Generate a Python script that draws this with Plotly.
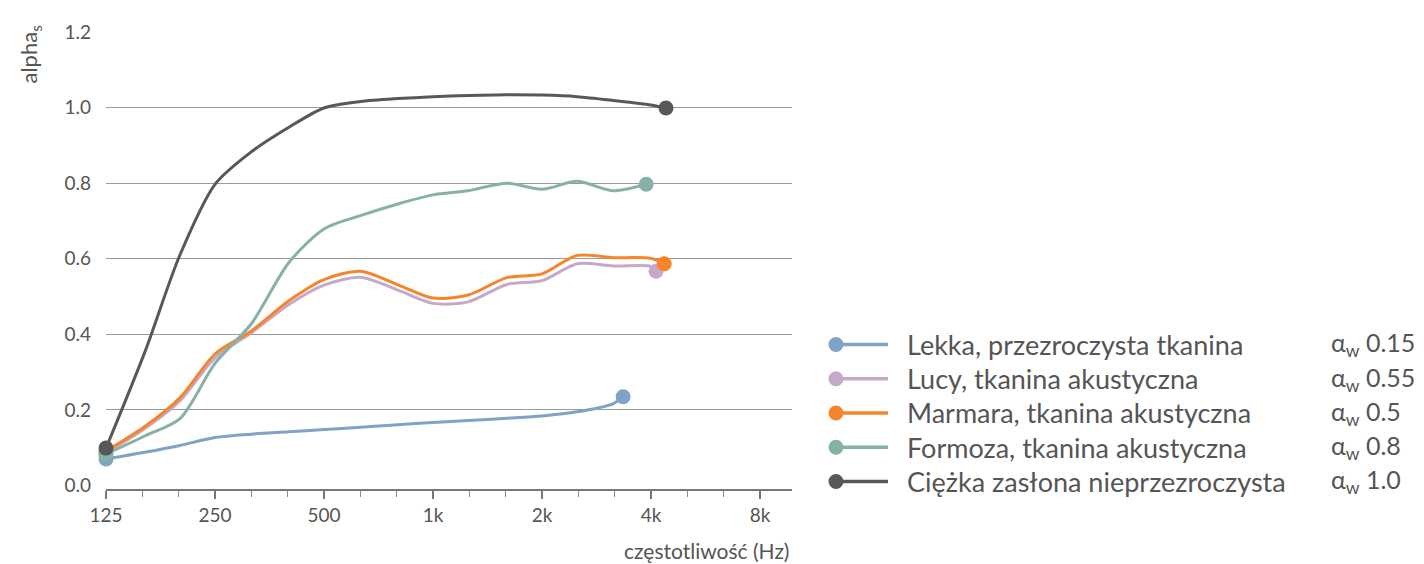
import numpy as np
import plotly.graph_objects as go

# ---------------- data ----------------
freqs = [125, 160, 200, 250, 315, 400, 500, 630, 800, 1000, 1250, 1600, 2000, 2500, 3150, 4000]

series_names = [
    "Lekka, przezroczysta tkanina",
    "Lucy, tkanina akustyczna",
    "Marmara, tkanina akustyczna",
    "Formoza, tkanina akustyczna",
    "Ciężka zasłona nieprzezroczysta",
]
alpha_w = ["0.15", "0.55", "0.5", "0.8", "1.0"]

lekka_f = freqs[:15] + [3350]
lekka_v = [0.070, 0.088, 0.106, 0.127, 0.136, 0.142, 0.148, 0.154, 0.161, 0.167, 0.172, 0.178, 0.184, 0.195, 0.217, 0.235]

lucy_f = freqs + [4130]
lucy_v = [0.086, 0.151, 0.224, 0.338, 0.404, 0.479, 0.530, 0.551, 0.517, 0.482, 0.486, 0.532, 0.542, 0.587, 0.581, 0.580, 0.567]

marmara_f = freqs + [4350]
marmara_v = [0.091, 0.156, 0.232, 0.348, 0.409, 0.489, 0.545, 0.567, 0.531, 0.496, 0.504, 0.550, 0.560, 0.609, 0.603, 0.601, 0.587]

formoza_f = freqs[:15] + [3880]
formoza_v = [0.083, 0.131, 0.177, 0.323, 0.428, 0.590, 0.679, 0.714, 0.745, 0.769, 0.780, 0.800, 0.784, 0.805, 0.780, 0.797]

ciezka_f = freqs + [4400]
ciezka_v = [0.099, 0.353, 0.610, 0.797, 0.883, 0.948, 0.999, 1.016, 1.024, 1.029, 1.032, 1.034, 1.033, 1.029, 1.019, 1.007, 0.999]

colors = ["#7ea3c7", "#c6a9c9", "#f5842a", "#86b1a8", "#58585a"]

x_major = [125, 250, 500, 1000, 2000, 4000, 8000]
x_major_text = ["125", "250", "500", "1k", "2k", "4k", "8k"]
x_minor = [125 * 2 ** (k / 3) for k in range(0, 19) if k % 3 != 0]
y_ticks = [0.0, 0.2, 0.4, 0.6, 0.8, 1.0, 1.2]
y_grid = [0.2, 0.4, 0.6, 0.8, 1.0, 1.2]

# ---------------- figure ----------------
OFF = 8  # default page body margin
W, H = 1424 - OFF, 564 - OFF
PL, PR, PT, PB = 106, 792, 28.3, 488.6   # plot area in page pixels
Y_PER_UNIT = 380.6
Y_LO = -(PB - 485.1) / Y_PER_UNIT         # axis line sits a little below 0
L, T = PL - OFF, PT - OFF
R = W - (PR - OFF)
B = H - (PB - OFF)
PW, PH = PR - PL, PB - PT

FONT = "Lato"
TXT = "#555555"

fig = go.Figure()
all_series = [
    (lekka_f, lekka_v),
    (lucy_f, lucy_v),
    (marmara_f, marmara_v),
    (formoza_f, formoza_v),
    (ciezka_f, ciezka_v),
]
for (fx, fy), name, col in zip(all_series, series_names, colors):
    n = len(fx)
    fig.add_trace(go.Scatter(
        x=fx, y=fy, mode="lines+markers", name=name,
        line=dict(color=col, width=3, shape="spline", smoothing=0.8),
        marker=dict(color=col, size=[15] + [0] * (n - 2) + [15], opacity=1,
                    line=dict(width=0)),
        cliponaxis=False, showlegend=False, hoverinfo="skip",
    ))

x_hi = 125 * 2 ** ((PR - PL) / 109.0)
fig.update_xaxes(
    type="log", range=[np.log10(125), np.log10(x_hi)],
    tickmode="array", tickvals=x_major, ticktext=x_major_text,
    ticks="outside", ticklen=8, tickwidth=1.5, tickcolor="#777777",
    showline=True, linecolor="#777777", linewidth=2,
    showgrid=False, zeroline=False,
    tickfont=dict(family=FONT, size=19, color=TXT),
    ticklabelstandoff=0,
    minor=dict(tickmode="array", tickvals=x_minor, ticks="outside", ticklen=6,
               tickwidth=1.2, tickcolor="#888888", showgrid=False),
)
fig.update_yaxes(
    range=[Y_LO, 1.2], tickmode="array", tickvals=y_ticks,
    ticktext=[f"{v:.1f}" for v in y_ticks],
    showgrid=False, zeroline=False, showline=False, ticks="",
    tickfont=dict(family=FONT, size=19, color=TXT),
    ticklabelstandoff=14,
    minor=dict(tickmode="array", tickvals=y_grid, ticks="", showgrid=True,
               gridcolor="#9a9a9a", gridwidth=1),
)

def px_x(p):
    return (p - PL) / PW

def px_y(p):
    return (PB - p) / PH

annotations = [
    dict(text="alpha<sub>s</sub>", xref="paper", yref="paper", x=px_x(30), y=px_y(51),
         textangle=-90, showarrow=False, xanchor="center", yanchor="middle",
         font=dict(family=FONT, size=22, color=TXT)),
    dict(text="częstotliwość (Hz)", xref="paper", yref="paper", x=px_x(791), y=px_y(551),
         showarrow=False, xanchor="right", yanchor="middle",
         font=dict(family=FONT, size=21, color=TXT)),
]
shapes = []
row_y = [343, 377.5, 412, 446.5, 481]
for ry, name, aw, col in zip(row_y, series_names, alpha_w, colors):
    shapes.append(dict(type="line", xref="paper", yref="paper",
                       x0=px_x(836), x1=px_x(888), y0=px_y(ry), y1=px_y(ry),
                       line=dict(color=col, width=3.5)))
    shapes.append(dict(type="circle", xref="paper", yref="paper",
                       xsizemode="pixel", ysizemode="pixel",
                       xanchor=px_x(836), yanchor=px_y(ry),
                       x0=-7.5, x1=7.5, y0=-7.5, y1=7.5,
                       fillcolor=col, line=dict(width=0)))
    annotations.append(dict(text=name, xref="paper", yref="paper",
                            x=px_x(905), y=px_y(ry), showarrow=False,
                            xanchor="left", yanchor="middle",
                            font=dict(family=FONT, size=27, color=TXT)))
    annotations.append(dict(
        text=f"α<sub>w</sub> {aw}",
        xref="paper", yref="paper",
        x=px_x(1329), y=px_y(ry), showarrow=False,
        xanchor="left", yanchor="middle",
        font=dict(family=FONT, size=25, color=TXT)))

fig.update_layout(
    width=W, height=H,
    margin=dict(l=L, r=R, t=T, b=B, pad=0),
    paper_bgcolor="white", plot_bgcolor="white",
    annotations=annotations, shapes=shapes,
    showlegend=False,
)

fig.write_html("out.html")
